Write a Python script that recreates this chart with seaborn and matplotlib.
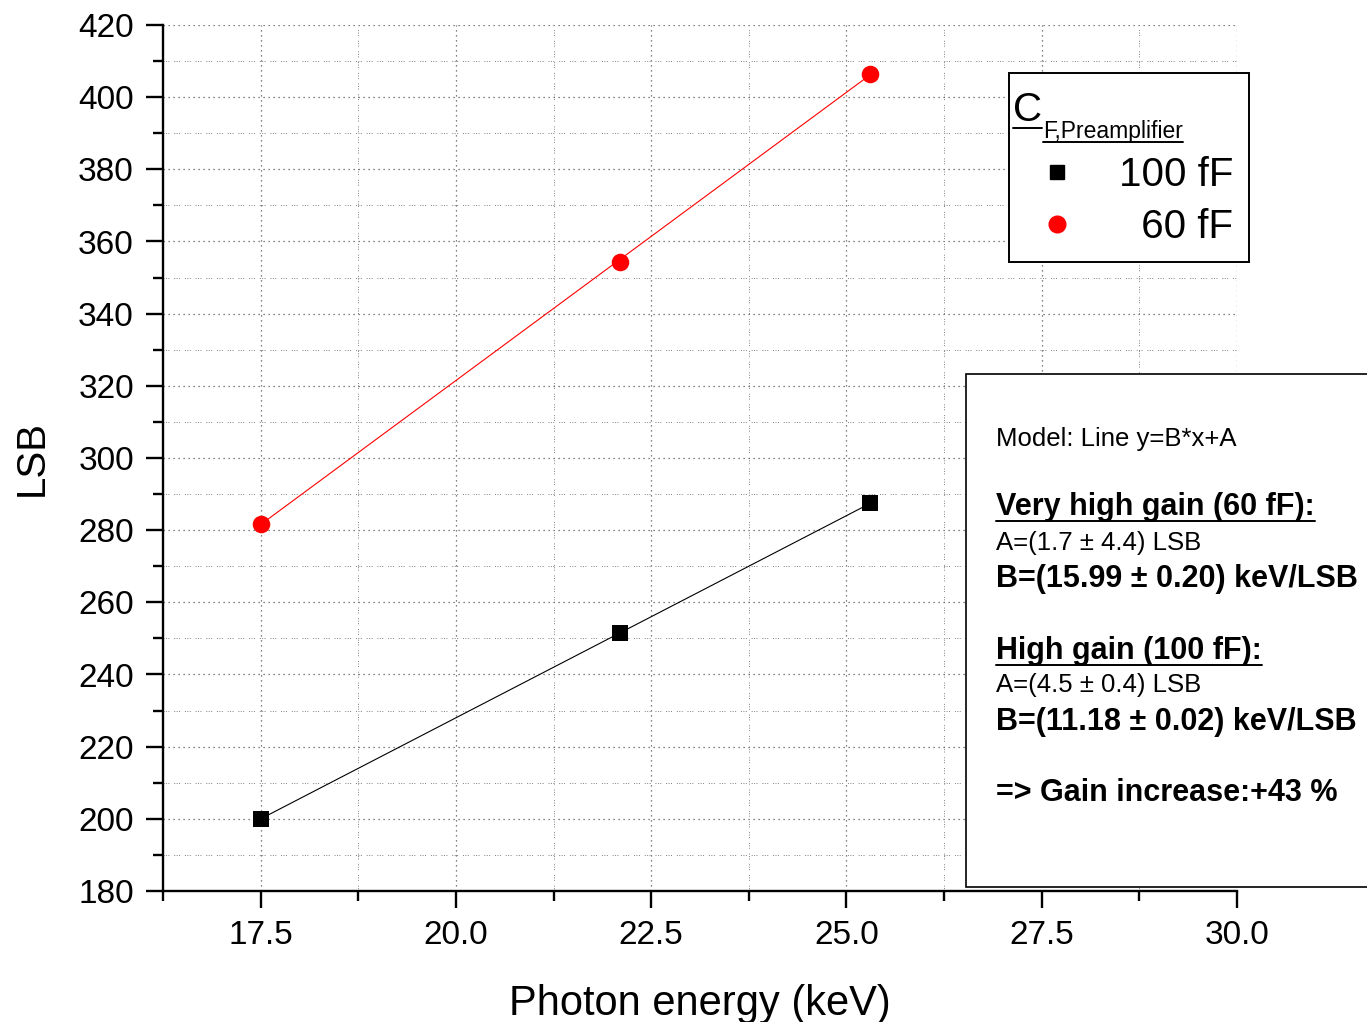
import matplotlib
matplotlib.use("Agg")
import matplotlib.pyplot as plt
from matplotlib.lines import Line2D
from matplotlib.patches import Rectangle
from matplotlib.ticker import MultipleLocator, FormatStrFormatter
import seaborn as sns

# photon energies and measured peak positions
energy = [17.5, 22.1, 25.3]
lsb_100ff = [200.0, 251.5, 287.4]
lsb_60ff = [281.8, 354.4, 406.5]
series_labels = ["100 fF", "  60 fF"]

info_lines = [
    "Model: Line y=B*x+A",
    "Very high gain (60 fF):",
    "A=(1.7 ± 4.4) LSB",
    "B=(15.99 ± 0.20) keV/LSB",
    "High gain (100 fF):",
    "A=(4.5 ± 0.4) LSB",
    "B=(11.18 ± 0.02) keV/LSB",
    "=> Gain increase:+43 %",
]
info_bold = [False, True, False, True, True, False, True, True]
info_under = [False, True, False, False, True, False, False, False]
info_base = [446, 515, 550, 587, 659, 692, 730, 801]

sns.set_theme(style="ticks")
plt.rcParams["font.family"] = ["Liberation Sans", "DejaVu Sans"]
plt.rcParams["text.color"] = "black"

W, H = 1367, 1022
def fx(x):
    return x / W
def fy(y):
    return 1 - y / H

fig = plt.figure(figsize=(W / 100, H / 100), dpi=100)
ax = fig.add_axes([fx(163), fy(891), (1237 - 163) / W, (891 - 25) / H])

sns.regplot(x=energy, y=lsb_100ff, ax=ax, ci=None, truncate=True, marker="s",
            color="black", scatter_kws={"s": 130, "linewidths": 0, "alpha": 1, "zorder": 4},
            line_kws={"lw": 0.8, "zorder": 3})
sns.regplot(x=energy, y=lsb_60ff, ax=ax, ci=None, truncate=True, marker="o",
            color="red", scatter_kws={"s": 160, "linewidths": 0, "alpha": 1, "zorder": 4},
            line_kws={"lw": 0.8, "zorder": 3})

ax.set_xlim(16.25, 30)
ax.set_ylim(180, 420)
ax.xaxis.set_major_locator(MultipleLocator(2.5))
ax.xaxis.set_minor_locator(MultipleLocator(1.25))
ax.yaxis.set_major_locator(MultipleLocator(20))
ax.yaxis.set_minor_locator(MultipleLocator(10))
ax.xaxis.set_major_formatter(FormatStrFormatter("%.1f"))
sns.despine(ax=ax)
for s in ["left", "bottom"]:
    ax.spines[s].set_linewidth(1.7)
    ax.spines[s].set_color("black")
ax.tick_params(which="major", direction="out", length=12, width=1.7,
               labelsize=24, pad=9, colors="black")
ax.tick_params(which="minor", direction="out", length=7, width=1.7, colors="black")
ax.grid(which="major", ls=(0, (1, 3)), color="0.35", lw=0.9)
ax.grid(which="minor", ls=(0, (1, 1.5, 1, 1.5, 1, 5)), color="0.5", lw=0.7)
ax.set_axisbelow(True)

ax.set_xlabel("Photon energy (keV)", fontsize=30, labelpad=24, color="black")
ax.set_ylabel("LSB", fontsize=29, labelpad=20, color="black")

# legend: first row left blank for the hand-drawn title
handles = [
    Line2D([], [], ls="none"),
    Line2D([], [], marker="s", color="black", ls="none", markersize=10.5),
    Line2D([], [], marker="o", color="red", ls="none", markersize=12),
]
leg = ax.legend(handles, [" "] + series_labels, fontsize=29, labelcolor="black",
                loc="upper left", bbox_to_anchor=((1009 - 163) / 1074, (891 - 73) / 866),
                borderaxespad=0, frameon=True, fancybox=False, edgecolor="black",
                framealpha=1, borderpad=0.4, handlelength=1.6, handletextpad=0.72,
                labelspacing=0.33)
leg.get_frame().set_linewidth(1.4)
leg.get_texts()[0].set_fontsize(41)

# results box on the right
box = Rectangle((fx(966), fy(887)), (1420 - 966) / W, (887 - 374) / H,
                transform=fig.transFigure, facecolor="white", edgecolor="black",
                lw=1.2, zorder=5, clip_on=False)
fig.add_artist(box)
info_texts = []
for line, bold, base in zip(info_lines, info_bold, info_base):
    t = fig.text(fx(996), fy(base), line, fontsize=22 if bold else 18.5,
                 fontweight="bold" if bold else "normal", va="baseline",
                 ha="left", color="black", zorder=6)
    info_texts.append(t)

# legend title C_F,Preamplifier
c_txt = fig.text(fx(1013), fy(121), "C", fontsize=29, va="baseline", ha="left",
                 color="black", zorder=8)
sub_txt = fig.text(fx(1043), fy(138), "F,Preamplifier", fontsize=16.5, va="baseline",
                   ha="left", color="black", zorder=8)

fig.canvas.draw()
renderer = fig.canvas.get_renderer()

def underline(t, y, lw=1.4):
    bb = t.get_window_extent(renderer)
    fig.add_artist(Line2D([bb.x0 / W, bb.x1 / W], [fy(y), fy(y)],
                          transform=fig.transFigure, color="black", lw=lw, zorder=9))

for t, base, und in zip(info_texts, info_base, info_under):
    if und:
        underline(t, base + 6)
underline(c_txt, 128)
underline(sub_txt, 142)

fig.savefig("out.png", dpi=100)
